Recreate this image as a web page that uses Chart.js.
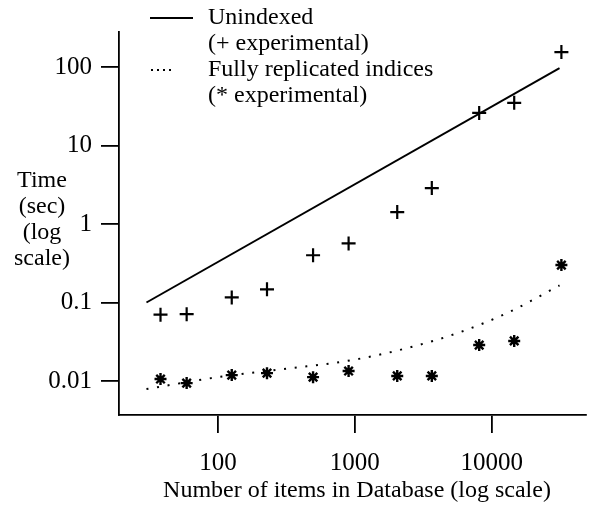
<!DOCTYPE html>
<html>
<head>
  <title>Unindexed vs replicated indices</title>
  <script src="https://cdn.jsdelivr.net/npm/chart.js"></script>
  <style>
    body { margin: 0; background: #fff; }
  </style>
</head>
<body>
  <canvas id="chartCanvas" width="595" height="505"></canvas>

  <script>
    // items in database (x), measured times (y)
    const items = [38, 59, 126, 228, 495, 900, 2040, 3650, 8100, 14600, 32300];
    const unindexedTimes = [0.07, 0.071, 0.116, 0.147, 0.40, 0.565, 1.42, 2.87, 26, 35, 155];
    const replicatedTimes = [0.0106, 0.0094, 0.0119, 0.0126, 0.0112, 0.0134, 0.0116, 0.0116, 0.0287, 0.0324, 0.30];

    // model curves
    const unindexedModelX = [30, 31300];
    const unindexedModelY = [0.1, 97];
    const replicatedModelX = [30, 100, 300, 960, 2580, 5900, 13450, 31300];
    const replicatedModelY = [0.0079, 0.0112, 0.0142, 0.0185, 0.0271, 0.042, 0.0757, 0.165];

    const xTicks = [100, 1000, 10000];
    const yTicks = [0.01, 0.1, 1, 10, 100];
    const xTickLabels = ["100", "1000", "10000"];
    const yTickLabels = ["0.01", "0.1", "1", "10", "100"];

    const legendLines = ["Unindexed", "(+ experimental)", "Fully replicated indices", "(* experimental)"];
    const yTitleLines = ["Time", "(sec)", "(log", "scale)"];
    const xTitle = "Number of items in Database (log scale)";

    const FONT = "'Liberation Serif', 'Times New Roman', serif";

    const zip = (xs, ys) => xs.map((x, i) => ({ x: x, y: ys[i] }));

    const extras = {
      id: "extras",
      afterDraw(chart) {
        const ctx = chart.ctx;
        ctx.save();
        ctx.fillStyle = "#000";
        ctx.strokeStyle = "#000";

        // legend samples
        ctx.lineWidth = 2;
        ctx.beginPath();
        ctx.moveTo(150, 18);
        ctx.lineTo(193, 18);
        ctx.stroke();
        [152, 158, 164, 170].forEach(x => ctx.fillRect(x - 1, 69, 2, 2));

        ctx.font = "24px " + FONT;
        ctx.textBaseline = "middle";
        ctx.textAlign = "left";
        legendLines.forEach((t, i) => ctx.fillText(t, 208, 18 + i * 26));

        ctx.textAlign = "center";
        yTitleLines.forEach((t, i) => ctx.fillText(t, 42, 181 + i * 26));

        ctx.fillText(xTitle, 357, 491);
        ctx.restore();
      }
    };

    new Chart(document.getElementById("chartCanvas"), {
      type: "scatter",
      data: {
        datasets: [
          {
            data: zip(unindexedModelX, unindexedModelY),
            showLine: true,
            borderColor: "#000",
            borderWidth: 2,
            pointRadius: 0,
            clip: false
          },
          {
            data: zip(replicatedModelX, replicatedModelY),
            showLine: true,
            borderColor: "#000",
            borderWidth: 2,
            borderDash: [2, 8.7],
            cubicInterpolationMode: "monotone",
            pointRadius: 0,
            clip: false
          },
          {
            data: zip(items, unindexedTimes),
            pointStyle: "cross",
            pointRadius: 7,
            pointBorderWidth: 2.2,
            borderColor: "#000",
            backgroundColor: "#000",
            clip: false
          },
          {
            data: zip(items, replicatedTimes),
            pointStyle: "star",
            pointRadius: 6,
            pointBorderWidth: 2.4,
            borderColor: "#000",
            backgroundColor: "#000",
            clip: false
          }
        ]
      },
      options: {
        responsive: false,
        animation: false,
        devicePixelRatio: 1,
        layout: { padding: { top: 32, left: 0, right: 0, bottom: 0 } },
        plugins: { legend: { display: false }, tooltip: { enabled: false } },
        scales: {
          x: {
            type: "logarithmic",
            min: 18.9,
            max: 48700,
            afterFit: s => { s.height = 90; },
            afterBuildTicks: s => { s.ticks = xTicks.map(v => ({ value: v })); },
            border: { display: true, color: "#000", width: 1.8 },
            grid: { drawOnChartArea: false, drawTicks: true, tickLength: 18, color: "#000", lineWidth: 1.8 },
            ticks: {
              color: "#000",
              font: { family: FONT, size: 25 },
              padding: 15,
              maxRotation: 0,
              callback: (v) => xTickLabels[xTicks.indexOf(v)]
            }
          },
          y: {
            type: "logarithmic",
            min: 0.00369,
            max: 279,
            afterFit: s => { s.width = 119; },
            afterBuildTicks: s => { s.ticks = yTicks.map(v => ({ value: v })); },
            border: { display: true, color: "#000", width: 1.8 },
            grid: { drawOnChartArea: false, drawTicks: true, tickLength: 18, color: "#000", lineWidth: 1.8 },
            ticks: {
              color: "#000",
              font: { family: FONT, size: 25 },
              padding: 9,
              callback: (v) => yTickLabels[yTicks.indexOf(v)]
            }
          }
        }
      },
      plugins: [extras]
    });
  </script>
</body>
</html>
